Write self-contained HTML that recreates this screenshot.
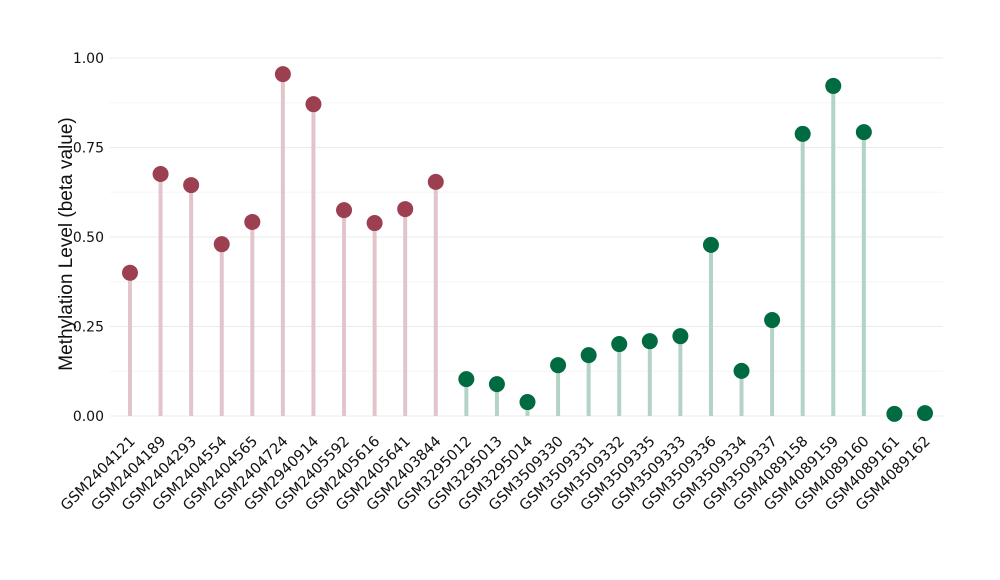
<!DOCTYPE html>
<html><head><meta charset="utf-8"><style>
body{margin:0;background:#fff}
svg{display:block;font-family:"DejaVu Sans","Liberation Sans",sans-serif}
</style></head><body>
<svg id="chart" width="1000" height="580" viewBox="0 0 1000 580">
<g id="grid"></g>
<g id="yaxis"></g>
<g id="marks"></g>
<g id="xaxis"></g>
<text transform="translate(72,244) rotate(-90)" text-anchor="middle" font-size="19" fill="#111" font-family="Liberation Sans, sans-serif">Methylation Level (beta value)</text>
</svg>
<script>
const categories=["GSM2404121","GSM2404189","GSM2404293","GSM2404554","GSM2404565","GSM2404724","GSM2940914","GSM2405592","GSM2405616","GSM2405641","GSM2403844","GSM3295012","GSM3295013","GSM3295014","GSM3509330","GSM3509331","GSM3509332","GSM3509335","GSM3509333","GSM3509336","GSM3509334","GSM3509337","GSM4089158","GSM4089159","GSM4089160","GSM4089161","GSM4089162"];
const values=[0.40,0.676,0.645,0.48,0.542,0.955,0.871,0.575,0.539,0.578,0.654,0.103,0.089,0.039,0.142,0.170,0.201,0.209,0.223,0.478,0.126,0.268,0.788,0.922,0.793,0.006,0.008];
const groups=["A","A","A","A","A","A","A","A","A","A","A","B","B","B","B","B","B","B","B","B","B","B","B","B","B","B","B"];
const yTicks=[0,0.25,0.5,0.75,1];
const yTickLabels=["0.00","0.25","0.50","0.75","1.00"];
const NS="http://www.w3.org/2000/svg";
const x0=130,x1=925,y0=416,y1=58,gl=110,gr=943;
const xs=i=>x0+(x1-x0)*i/(categories.length-1);
const ys=v=>y0+(y1-y0)*v;
const col={A:{dot:"#9b3f51",stem:"#e3c4cb"},B:{dot:"#006a40",stem:"#b2d3c6"}};
function mk(t,a,p){const e=document.createElementNS(NS,t);for(const k in a)e.setAttribute(k,a[k]);p.appendChild(e);return e;}
const grid=document.getElementById('grid'),ya=document.getElementById('yaxis'),mg=document.getElementById('marks'),xa=document.getElementById('xaxis');
for(let i=0;i<yTicks.length;i++){
 const y=ys(yTicks[i]);
 const l=mk('line',{x1:gl,x2:gr,y1:y,y2:y,stroke:"#ebebeb","stroke-width":1},grid);
 
 
 if(i<yTicks.length-1){const ym=ys((yTicks[i]+yTicks[i+1])/2);
 const m=mk('line',{x1:gl,x2:gr,y1:ym,y2:ym,stroke:"#f5f5f5","stroke-width":1},grid);
 
 }
 const t=mk('text',{x:104,y:y+5,"text-anchor":"end","font-size":14,fill:"#111"},ya);
 t.textContent=yTickLabels[i];
 
 
}
values.forEach((v,i)=>{
 const x=xs(i),c=col[groups[i]];
 const s=mk('line',{x1:x,x2:x,y1:y0,y2:ys(v),stroke:c.stem,"stroke-width":4},mg);
 
 
 const d=mk('circle',{cx:x,cy:ys(v),r:8,fill:c.dot},mg);
 
 
 const t=mk('text',{transform:`translate(${x+6},${y0+26}) rotate(-45)`,"text-anchor":"end","font-size":14.6,fill:"#111"},xa);
 t.textContent=categories[i];
 
 
});
</script>
</body></html>
